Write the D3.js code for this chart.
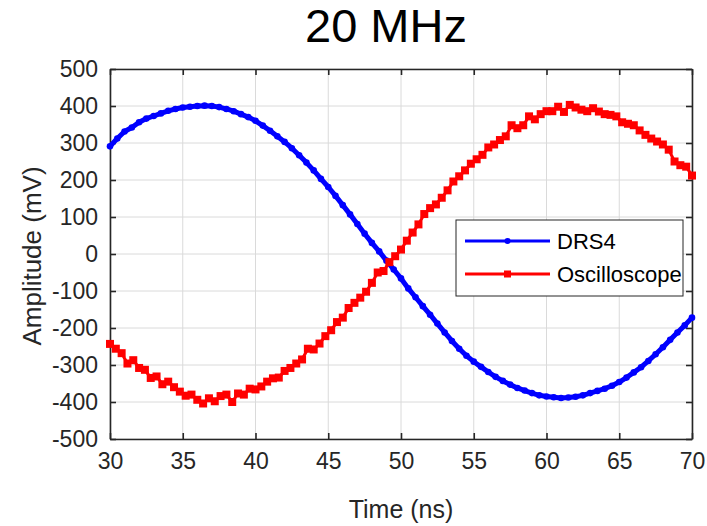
<!DOCTYPE html>
<html>
<head>
<meta charset="utf-8">
<script src="https://cdn.jsdelivr.net/npm/d3@7"></script>
<style>
  body { margin: 0; background: #fff; }
  text { font-family: "Liberation Sans", Arial, Helvetica, sans-serif; fill: #262626; }
</style>
</head>
<body>
<svg id="chart" width="707" height="526"></svg>
<script>
// DRS4 samples (time in ns, amplitude in mV)
var drs_t = [30, 30.5, 31, 31.5, 32, 32.5, 33, 33.5, 34, 34.5, 35, 35.5, 36, 36.5, 37, 37.5, 38, 38.5, 39, 39.5,
    40, 40.5, 41, 41.5, 42, 42.5, 43, 43.5, 44, 44.5, 45, 45.5, 46, 46.5, 47, 47.5, 48, 48.5, 49, 49.5,
    50, 50.5, 51, 51.5, 52, 52.5, 53, 53.5, 54, 54.5, 55, 55.5, 56, 56.5, 57, 57.5, 58, 58.5, 59, 59.5,
    60, 60.5, 61, 61.5, 62, 62.5, 63, 63.5, 64, 64.5, 65, 65.5, 66, 66.5, 67, 67.5, 68, 68.5, 69, 69.5, 70];
var drs_v = [291, 312, 331, 342, 356, 366, 373, 380, 387, 392, 396, 398, 400, 401, 400, 397, 392, 386, 378, 370,
    360, 347, 333, 318, 303, 286, 267, 247, 226, 203, 181, 157, 132, 107, 81, 55, 30, 7, -18, -42,
    -66, -93, -117, -141, -164, -188, -212, -235, -256, -275, -291, -305, -319, -332, -343, -353, -362, -369, -376, -382,
    -385, -387, -389, -388, -386, -382, -376, -370, -364, -356, -346, -334, -320, -306, -289, -271, -252, -232, -212, -193, -172];

// Oscilloscope samples
var osc_t = [30, 30.4, 30.8, 31.2, 31.6, 32, 32.4, 32.8, 33.2, 33.6, 34, 34.4, 34.8, 35.2, 35.6, 36, 36.4, 36.8, 37.2, 37.6,
    38, 38.4, 38.8, 39.2, 39.6, 40, 40.4, 40.8, 41.2, 41.6, 42, 42.4, 42.8, 43.2, 43.6, 44, 44.4, 44.8, 45.2, 45.6,
    46, 46.4, 46.8, 47.2, 47.6, 48, 48.4, 48.8, 49.2, 49.6, 50, 50.4, 50.8, 51.2, 51.6, 52, 52.4, 52.8, 53.2, 53.6,
    54, 54.4, 54.8, 55.2, 55.6, 56, 56.4, 56.8, 57.2, 57.6, 58, 58.4, 58.8, 59.2, 59.6, 60, 60.4, 60.8, 61.2, 61.6,
    62, 62.4, 62.8, 63.2, 63.6, 64, 64.4, 64.8, 65.2, 65.6, 66, 66.4, 66.8, 67.2, 67.6, 68, 68.4, 68.8, 69.2, 69.6, 70];
var osc_v = [-243, -256, -268, -296, -287, -308, -313, -335, -331, -352, -345, -360, -372, -383, -380, -394, -404, -390, -398, -384,
    -380, -400, -377, -380, -364, -366, -358, -345, -336, -334, -316, -308, -296, -285, -256, -258, -242, -222, -206, -184,
    -172, -146, -132, -118, -102, -78, -50, -46, -22, -6, 12, 36, 58, 80, 108, 124, 134, 152, 172, 196,
    210, 226, 244, 256, 268, 288, 296, 308, 318, 348, 340, 348, 372, 364, 378, 386, 386, 398, 384, 403,
    396, 390, 386, 394, 385, 378, 376, 372, 356, 352, 348, 334, 322, 312, 304, 296, 282, 250, 240, 236, 212];

var x_ticks = [30, 35, 40, 45, 50, 55, 60, 65, 70];
var y_ticks = [-500, -400, -300, -200, -100, 0, 100, 200, 300, 400, 500];
var series_names = ["DRS4", "Oscilloscope"];
var title_text = "20 MHz";

var AXIS = "#262626";
var BLUE = "#0000ff";
var RED = "#ff0000";

var svg = d3.select("#chart");
var plot_left = 110, plot_right = 692, plot_top = 69, plot_bottom = 439;

var x = d3.scaleLinear().domain([30, 70]).range([plot_left, plot_right]);
var y = d3.scaleLinear().domain([-500, 500]).range([plot_bottom, plot_top]);

// grid lines
var grid = svg.append("g").attr("stroke", "#dadada").attr("stroke-width", 1);
x_ticks.forEach(function (t) {
    grid.append("line").attr("x1", x(t)).attr("x2", x(t)).attr("y1", plot_top).attr("y2", plot_bottom);
});
y_ticks.forEach(function (t) {
    grid.append("line").attr("x1", plot_left).attr("x2", plot_right).attr("y1", y(t)).attr("y2", y(t));
});

// axes, ticks pointing inward on all four sides
var xAxis = svg.append("g").attr("transform", "translate(0," + plot_bottom + ")")
    .call(d3.axisBottom(x).tickValues(x_ticks).tickSizeInner(-6).tickSizeOuter(0).tickPadding(14));
var xAxisTop = svg.append("g").attr("transform", "translate(0," + plot_top + ")")
    .call(d3.axisTop(x).tickValues(x_ticks).tickSizeInner(-6).tickSizeOuter(0).tickFormat(""));
var yAxis = svg.append("g").attr("transform", "translate(" + plot_left + ",0)")
    .call(d3.axisLeft(y).tickValues(y_ticks).tickSizeInner(-6).tickSizeOuter(0).tickPadding(12));
var yAxisRight = svg.append("g").attr("transform", "translate(" + plot_right + ",0)")
    .call(d3.axisRight(y).tickValues(y_ticks).tickSizeInner(-6).tickSizeOuter(0).tickFormat(""));

[xAxis, xAxisTop, yAxis, yAxisRight].forEach(function (g) {
    g.select(".domain").attr("stroke", AXIS).attr("stroke-width", 1.6);
    g.selectAll(".tick line").attr("stroke", AXIS).attr("stroke-width", 1.6);
    g.selectAll(".tick text").attr("fill", AXIS).style("font-size", "23px")
        .style("font-family", "\"Liberation Sans\", Arial, sans-serif");
});
xAxis.selectAll(".tick text").attr("dy", "0.71em");
// d3 writes the minus sign as U+2212; the reference uses a plain hyphen
yAxis.selectAll(".tick text").text(function (d) { return String(d); });

// DRS4 trace
var drs = drs_t.map(function (t, i) { return [t, drs_v[i]]; });
var osc = osc_t.map(function (t, i) { return [t, osc_v[i]]; });
var line = d3.line().x(function (d) { return x(d[0]); }).y(function (d) { return y(d[1]); });

svg.append("path").datum(drs).attr("d", line)
    .attr("fill", "none").attr("stroke", BLUE).attr("stroke-width", 5).attr("stroke-linejoin", "round");
svg.append("g").selectAll("circle").data(drs).enter().append("circle")
    .attr("cx", function (d) { return x(d[0]); })
    .attr("cy", function (d) { return y(d[1]); })
    .attr("r", 3.3).attr("fill", BLUE);

// Oscilloscope trace, drawn after so it sits on top
svg.append("path").datum(osc).attr("d", line)
    .attr("fill", "none").attr("stroke", RED).attr("stroke-width", 3);
svg.append("g").selectAll("rect").data(osc).enter().append("rect")
    .attr("x", function (d) { return x(d[0]) - 4; })
    .attr("y", function (d) { return y(d[1]) - 4; })
    .attr("width", 8).attr("height", 8).attr("fill", RED);

// legend
var legend = svg.append("g").attr("transform", "translate(456,220)");
legend.append("rect").attr("width", 227).attr("height", 76)
    .attr("fill", "#fff").attr("stroke", AXIS).attr("stroke-width", 1);
series_names.forEach(function (name, i) {
    var ly = 21 + i * 33;
    var color = i === 0 ? BLUE : RED;
    legend.append("line").attr("x1", 9).attr("x2", 94).attr("y1", ly).attr("y2", ly)
        .attr("stroke", color).attr("stroke-width", 3);
    if (i === 0) {
        legend.append("circle").attr("cx", 51.5).attr("cy", ly).attr("r", 3).attr("fill", color);
    } else {
        legend.append("rect").attr("x", 48).attr("y", ly - 3.5).attr("width", 7).attr("height", 7).attr("fill", color);
    }
    legend.append("text").attr("x", 101).attr("y", ly + 8).style("font-size", "22px")
        .style("fill", "#000").text(name);
});

// title and axis labels
svg.append("text").attr("x", 386).attr("y", 42).attr("text-anchor", "middle")
    .style("font-size", "47px").style("fill", "#000").text(title_text);
svg.append("text").attr("x", 401).attr("y", 518).attr("text-anchor", "middle")
    .style("font-size", "25px").text("Time (ns)");
svg.append("text").attr("transform", "translate(41,256) rotate(-90)").attr("text-anchor", "middle")
    .style("font-size", "26px").text("Amplitude (mV)");
</script>
</body>
</html>
